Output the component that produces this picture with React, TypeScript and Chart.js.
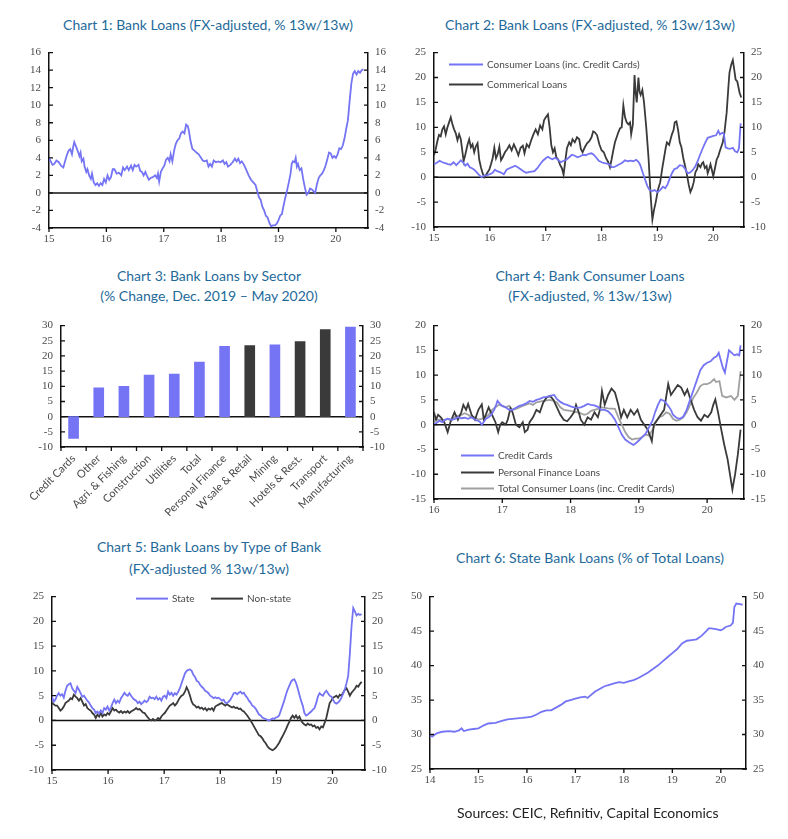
import React, { useEffect, useRef } from "react";
import { Chart, registerables } from "chart.js";

Chart.register(...registerables);

type Pt = [number, number];

// ---------------- DATA ----------------
// Chart 1: Bank loans, FX-adjusted % 13w/13w  [year (yy.frac), value]
const bankLoans: Pt[] = [
  [15.00,4.0],[15.03,3.6],[15.06,3.2],[15.09,3.3],[15.13,3.7],[15.17,3.5],[15.21,3.1],[15.25,2.9],[15.28,3.6],[15.31,4.3],
  [15.34,4.8],[15.37,5.0],[15.40,4.4],[15.42,5.2],[15.44,5.8],[15.47,5.3],[15.50,4.8],[15.53,4.2],[15.55,4.6],[15.57,3.6],
  [15.60,3.9],[15.62,3.0],[15.65,2.4],[15.67,2.7],[15.70,2.0],[15.73,1.6],[15.75,2.2],[15.78,1.2],[15.81,0.9],[15.84,1.1],
  [15.87,0.8],[15.90,1.1],[15.93,0.9],[15.96,1.6],[15.99,1.2],[16.02,2.0],[16.05,1.5],[16.08,1.8],[16.11,2.7],[16.14,2.7],
  [16.18,2.2],[16.22,2.3],[16.26,2.0],[16.29,2.9],[16.32,2.6],[16.36,3.0],[16.39,2.6],[16.43,3.1],[16.46,2.6],[16.49,3.2],
  [16.52,3.0],[16.56,3.2],[16.59,2.5],[16.62,2.4],[16.65,2.0],[16.68,2.4],[16.71,1.9],[16.74,1.5],[16.77,1.7],[16.81,1.8],
  [16.85,2.0],[16.88,1.7],[16.90,2.2],[16.92,1.3],[16.95,2.4],[16.98,2.8],[17.01,3.1],[17.04,3.8],[17.07,4.0],[17.10,3.6],
  [17.12,4.4],[17.15,3.6],[17.18,4.8],[17.21,5.6],[17.24,6.0],[17.27,6.2],[17.30,6.8],[17.33,7.0],[17.36,6.8],[17.39,7.8],
  [17.42,7.6],[17.44,7.0],[17.47,5.8],[17.50,5.0],[17.54,4.8],[17.57,4.6],[17.61,4.4],[17.64,4.1],[17.68,3.7],[17.71,3.6],
  [17.75,3.7],[17.78,3.0],[17.81,3.3],[17.84,3.0],[17.87,3.7],[17.91,3.5],[17.95,3.6],[17.99,3.5],[18.03,3.7],[18.06,3.3],
  [18.09,3.5],[18.12,3.0],[18.16,3.2],[18.20,3.5],[18.24,3.9],[18.27,3.6],[18.30,3.9],[18.33,3.4],[18.36,3.6],[18.40,3.2],
  [18.44,2.6],[18.48,2.0],[18.52,1.5],[18.56,1.2],[18.60,0.9],[18.63,0.2],[18.66,-0.5],[18.69,-0.8],[18.72,-1.6],[18.75,-2.0],
  [18.78,-2.6],[18.81,-2.8],[18.84,-3.4],[18.87,-3.8],[18.90,-3.7],[18.94,-3.7],[18.97,-3.5],[19.00,-3.1],[19.03,-2.6],[19.06,-2.4],
  [19.09,-1.4],[19.12,-0.5],[19.15,0.3],[19.18,1.2],[19.21,2.2],[19.23,3.3],[19.25,3.6],[19.28,3.5],[19.30,4.0],[19.32,3.0],
  [19.34,3.3],[19.37,2.6],[19.40,2.8],[19.43,1.6],[19.46,0.6],[19.49,-0.2],[19.52,0.0],[19.55,0.5],[19.58,0.4],[19.61,0.2],
  [19.64,0.0],[19.67,1.0],[19.70,1.7],[19.73,2.0],[19.76,2.2],[19.79,2.6],[19.82,3.1],[19.85,3.8],[19.88,4.6],[19.91,4.5],
  [19.94,4.0],[19.97,4.2],[20.00,4.0],[20.03,4.4],[20.06,5.1],[20.09,5.0],[20.12,5.4],[20.15,6.2],[20.18,7.3],[20.21,8.3],
  [20.24,10.5],[20.27,12.5],[20.30,13.6],[20.33,13.9],[20.36,13.5],[20.39,13.9],[20.42,13.7],[20.45,14.0],[20.48,14.1],
];

// Chart 2: consumer vs commercial loans
const consumerLoans: Pt[] = [
  [15.00,2.6],[15.05,2.9],[15.10,3.3],[15.15,3.0],[15.20,2.8],[15.25,2.6],[15.30,2.5],[15.35,3.0],[15.40,2.4],[15.45,3.0],
  [15.48,3.4],[15.52,3.0],[15.56,2.3],[15.60,2.7],[15.64,2.0],[15.68,1.8],[15.72,1.5],[15.77,0.9],[15.81,0.4],[15.85,0.0],
  [15.90,0.3],[15.95,0.4],[16.00,0.6],[16.05,0.9],[16.09,1.5],[16.13,1.2],[16.18,1.0],[16.22,0.8],[16.25,0.6],[16.30,1.5],
  [16.35,1.8],[16.40,2.0],[16.45,2.3],[16.50,2.0],[16.55,1.6],[16.60,1.2],[16.65,0.9],[16.70,1.0],[16.75,1.1],[16.80,1.2],
  [16.85,1.8],[16.90,2.6],[16.95,3.3],[17.00,3.8],[17.04,4.1],[17.08,3.8],[17.12,3.6],[17.17,3.9],[17.22,3.5],[17.27,3.0],
  [17.32,3.3],[17.37,3.5],[17.42,4.0],[17.47,4.5],[17.52,4.3],[17.57,4.0],[17.62,4.2],[17.67,4.5],[17.72,4.4],[17.77,4.7],
  [17.82,4.8],[17.86,4.5],[17.90,4.0],[17.95,3.3],[18.00,3.0],[18.05,2.8],[18.10,2.7],[18.15,2.5],[18.18,2.0],[18.22,2.0],
  [18.27,2.3],[18.32,2.6],[18.37,2.9],[18.42,3.4],[18.47,3.2],[18.52,3.3],[18.57,3.2],[18.62,3.5],[18.66,3.1],[18.69,2.5],
  [18.72,1.5],[18.75,0.5],[18.78,-0.5],[18.82,-1.8],[18.86,-2.6],[18.90,-2.8],[18.95,-2.6],[19.00,-3.0],[19.05,-2.6],[19.10,-1.9],
  [19.14,-2.2],[19.18,-1.5],[19.22,-0.3],[19.26,0.8],[19.30,1.6],[19.35,1.8],[19.40,2.4],[19.45,2.3],[19.50,1.6],[19.54,0.8],
  [19.58,0.9],[19.63,1.4],[19.68,2.2],[19.72,3.2],[19.76,4.4],[19.80,5.5],[19.85,6.8],[19.90,7.9],[19.95,8.1],[20.00,8.3],
  [20.05,8.4],[20.09,9.3],[20.12,8.6],[20.16,8.9],[20.19,8.7],[20.22,6.0],[20.26,5.8],[20.30,5.7],[20.35,5.9],[20.39,5.2],
  [20.43,5.0],[20.46,5.8],[20.49,10.8],
];
const commercialLoans: Pt[] = [
  [15.00,4.4],[15.03,5.6],[15.06,7.2],[15.09,8.5],[15.12,8.2],[15.15,9.6],[15.18,10.2],[15.21,8.6],[15.24,10.0],[15.27,11.0],
  [15.30,12.0],[15.33,10.6],[15.36,9.6],[15.39,8.8],[15.42,7.4],[15.45,8.6],[15.48,7.6],[15.51,5.0],[15.53,3.2],[15.56,4.5],
  [15.60,6.5],[15.63,7.6],[15.66,6.0],[15.69,6.6],[15.72,5.0],[15.75,6.2],[15.78,6.8],[15.81,3.5],[15.84,2.0],[15.87,0.8],
  [15.90,0.0],[15.93,0.4],[15.96,1.0],[15.99,1.5],[16.02,2.6],[16.05,3.8],[16.08,5.9],[16.11,3.8],[16.14,4.6],[16.17,6.1],
  [16.20,3.4],[16.23,4.0],[16.27,5.0],[16.31,5.6],[16.35,6.4],[16.39,5.4],[16.43,6.6],[16.47,5.6],[16.51,4.4],[16.55,5.9],
  [16.59,6.3],[16.62,4.8],[16.66,6.6],[16.70,6.0],[16.74,7.4],[16.78,8.6],[16.82,9.6],[16.86,8.6],[16.90,10.4],[16.94,9.6],
  [16.97,11.4],[17.00,12.0],[17.04,12.6],[17.07,10.0],[17.10,6.4],[17.13,5.0],[17.16,5.8],[17.19,4.0],[17.22,3.6],[17.26,2.4],
  [17.29,1.8],[17.32,0.5],[17.35,3.2],[17.38,5.8],[17.42,7.0],[17.45,6.4],[17.48,7.6],[17.52,7.0],[17.56,8.0],[17.60,7.6],
  [17.63,5.6],[17.66,5.0],[17.70,6.0],[17.74,6.8],[17.78,7.2],[17.82,8.0],[17.85,9.2],[17.88,9.0],[17.92,8.4],[17.96,6.6],
  [18.00,5.4],[18.04,5.0],[18.08,3.8],[18.12,3.0],[18.15,2.0],[18.18,3.6],[18.21,5.4],[18.24,7.0],[18.27,8.0],[18.30,9.0],
  [18.33,9.8],[18.36,10.0],[18.39,14.4],[18.42,12.0],[18.45,11.0],[18.48,10.6],[18.51,11.0],[18.53,8.6],[18.56,10.6],[18.59,20.5],
  [18.61,17.0],[18.63,15.0],[18.66,20.0],[18.68,17.2],[18.70,16.5],[18.73,17.5],[18.76,15.0],[18.80,10.0],[18.84,4.0],[18.88,-4.0],
  [18.91,-8.5],[18.94,-6.5],[18.97,-5.0],[19.01,-2.5],[19.05,-1.0],[19.09,2.0],[19.12,4.0],[19.15,6.0],[19.17,7.0],[19.21,6.5],
  [19.24,7.8],[19.26,8.6],[19.29,9.5],[19.31,11.0],[19.34,11.2],[19.37,9.5],[19.40,7.0],[19.43,6.0],[19.46,4.0],[19.49,2.5],
  [19.52,1.0],[19.56,-1.5],[19.59,-3.0],[19.62,-2.2],[19.65,-1.0],[19.68,1.0],[19.71,1.6],[19.73,2.6],[19.77,2.0],[19.80,2.8],
  [19.82,3.0],[19.85,1.8],[19.88,2.2],[19.90,0.8],[19.93,1.8],[19.95,2.6],[19.98,1.2],[20.00,0.2],[20.03,1.8],[20.06,3.5],
  [20.09,4.2],[20.11,5.0],[20.14,6.0],[20.17,7.0],[20.20,9.0],[20.24,13.0],[20.27,18.0],[20.29,21.0],[20.32,22.5],[20.35,23.5],
  [20.37,22.0],[20.40,19.6],[20.43,19.2],[20.47,17.0],[20.50,16.0],
];

// Chart 3: loans by sector, % change Dec 2019 - May 2020
const sectors = ["Credit Cards","Other","Agri. & Fishing","Construction","Utilities","Total","Personal Finance","W'sale & Retail","Mining","Hotels & Rest.","Transport","Manufacturing"];
const sectorChange = [-7.2, 9.5, 10.0, 13.7, 14.0, 18.0, 23.2, 23.4, 23.7, 24.7, 28.7, 29.5];
const darkSectors = ["W'sale & Retail", "Hotels & Rest.", "Transport"];

// Chart 4: consumer loans
const creditCards: Pt[] = [
  [16.00,0.0],[16.04,0.4],[16.08,0.8],[16.12,0.5],[16.16,1.0],[16.20,1.2],[16.25,1.0],[16.30,1.1],[16.35,1.5],[16.40,1.3],
  [16.45,1.4],[16.50,1.2],[16.55,1.5],[16.60,1.0],[16.64,0.8],[16.67,0.6],[16.70,0.0],[16.73,0.6],[16.76,1.2],[16.80,1.5],
  [16.84,2.0],[16.88,3.0],[16.91,4.0],[16.93,4.8],[16.96,4.3],[17.00,3.8],[17.05,3.5],[17.10,3.0],[17.15,3.0],[17.20,3.4],
  [17.25,3.8],[17.30,4.0],[17.35,4.3],[17.40,4.8],[17.45,4.6],[17.50,5.0],[17.55,5.2],[17.60,5.5],[17.65,5.6],[17.70,5.8],
  [17.76,6.0],[17.80,5.2],[17.85,4.6],[17.90,4.2],[17.95,4.0],[18.00,3.7],[18.05,3.5],[18.10,3.4],[18.15,3.5],[18.20,3.8],
  [18.25,4.2],[18.30,4.0],[18.35,3.9],[18.40,3.6],[18.45,3.0],[18.50,3.0],[18.55,2.7],[18.60,2.0],[18.65,1.0],[18.70,-0.5],
  [18.75,-2.0],[18.80,-3.0],[18.85,-3.5],[18.92,-4.1],[18.96,-3.7],[19.00,-3.2],[19.05,-2.5],[19.10,-1.8],[19.15,-0.5],[19.20,0.8],
  [19.24,2.6],[19.28,4.0],[19.32,5.1],[19.37,4.8],[19.42,4.0],[19.47,3.0],[19.50,2.0],[19.55,1.4],[19.60,1.2],[19.65,1.6],
  [19.70,3.0],[19.75,5.0],[19.80,7.0],[19.85,9.0],[19.90,11.0],[19.95,12.0],[20.00,12.5],[20.05,12.8],[20.10,13.5],[20.14,13.8],
  [20.17,14.5],[20.20,13.0],[20.23,11.5],[20.26,10.5],[20.29,12.8],[20.32,15.0],[20.36,14.5],[20.40,14.0],[20.44,14.2],[20.47,14.0],
  [20.49,16.0],
];
const personalFinance: Pt[] = [
  [16.00,2.5],[16.03,1.0],[16.06,2.0],[16.10,1.5],[16.15,0.5],[16.20,-1.5],[16.24,0.5],[16.27,1.5],[16.30,2.5],[16.35,1.0],
  [16.40,2.5],[16.43,4.0],[16.47,3.0],[16.50,4.2],[16.55,2.0],[16.60,1.0],[16.65,3.0],[16.70,4.1],[16.73,1.0],[16.80,3.5],
  [16.85,2.0],[16.90,0.5],[16.94,-1.5],[16.97,0.0],[17.00,0.5],[17.05,0.0],[17.08,1.0],[17.12,3.3],[17.15,2.5],[17.20,0.0],
  [17.25,-0.5],[17.30,0.5],[17.33,-1.5],[17.37,-1.0],[17.40,0.5],[17.45,1.5],[17.50,3.0],[17.55,2.5],[17.60,4.5],[17.65,5.5],
  [17.70,5.8],[17.75,5.0],[17.80,3.5],[17.85,2.0],[17.90,1.0],[17.95,0.7],[18.00,1.5],[18.05,2.5],[18.08,4.0],[18.12,2.5],
  [18.15,1.0],[18.20,0.0],[18.25,1.5],[18.30,1.0],[18.35,2.5],[18.40,1.5],[18.43,3.0],[18.46,6.8],[18.50,4.0],[18.55,6.0],
  [18.60,7.3],[18.65,6.5],[18.70,4.0],[18.74,1.5],[18.78,3.0],[18.83,1.5],[18.88,3.0],[18.93,2.0],[18.98,3.0],[19.03,1.0],
  [19.08,0.0],[19.13,-1.0],[19.19,-3.3],[19.22,0.0],[19.27,1.0],[19.32,2.0],[19.37,3.0],[19.43,8.2],[19.47,6.0],[19.52,7.0],
  [19.57,8.0],[19.62,7.5],[19.67,6.0],[19.71,7.1],[19.76,5.0],[19.81,3.0],[19.86,1.5],[19.91,0.8],[19.96,2.0],[20.01,1.5],
  [20.06,2.5],[20.09,4.0],[20.12,5.1],[20.16,2.5],[20.20,-0.5],[20.25,-4.0],[20.30,-7.0],[20.34,-10.5],[20.37,-13.1],[20.41,-10.0],
  [20.45,-6.0],[20.49,-1.0],
];
const totalConsumer: Pt[] = [
  [16.00,1.5],[16.05,1.0],[16.10,1.0],[16.15,0.8],[16.20,1.2],[16.25,0.8],[16.30,1.5],[16.35,1.8],[16.40,2.0],[16.45,2.3],
  [16.50,2.0],[16.55,1.5],[16.60,1.5],[16.65,1.0],[16.70,1.2],[16.75,1.5],[16.80,2.0],[16.85,3.0],[16.90,3.5],[16.95,4.0],
  [17.00,3.8],[17.05,3.5],[17.10,3.8],[17.15,3.0],[17.20,3.2],[17.30,3.8],[17.40,4.3],[17.45,4.0],[17.50,4.5],[17.60,4.8],
  [17.70,5.0],[17.75,4.8],[17.80,4.5],[17.85,3.5],[17.90,3.0],[18.00,2.8],[18.10,2.5],[18.15,2.3],[18.20,2.0],[18.25,2.2],
  [18.30,2.8],[18.40,3.2],[18.45,3.5],[18.55,3.3],[18.65,3.2],[18.70,1.5],[18.75,0.0],[18.80,-1.5],[18.85,-2.5],[18.90,-3.0],
  [18.95,-2.8],[19.00,-2.8],[19.05,-2.5],[19.10,-2.0],[19.15,-2.2],[19.20,-1.0],[19.25,0.5],[19.30,1.5],[19.35,1.8],[19.40,2.5],
  [19.45,2.2],[19.50,1.2],[19.55,0.8],[19.60,1.0],[19.65,1.5],[19.70,2.5],[19.75,4.0],[19.80,5.5],[19.85,6.5],[19.90,7.8],
  [19.95,8.2],[20.00,8.2],[20.05,8.5],[20.10,9.2],[20.13,8.6],[20.18,8.8],[20.22,5.8],[20.28,5.5],[20.35,5.8],[20.40,5.0],
  [20.45,5.8],[20.49,10.8],
];

// Chart 5: state vs non-state banks
const stateBanks: Pt[] = [
  [15.00,4.8],[15.03,3.8],[15.06,4.2],[15.09,5.0],[15.12,5.5],[15.15,5.0],[15.18,5.3],[15.21,4.6],[15.24,6.0],[15.27,7.0],
  [15.30,7.3],[15.33,7.5],[15.36,6.5],[15.39,6.0],[15.42,5.5],[15.45,6.8],[15.48,6.2],[15.51,5.5],[15.54,4.8],[15.57,5.0],
  [15.60,4.5],[15.63,4.0],[15.66,3.6],[15.69,3.0],[15.72,2.5],[15.75,2.2],[15.78,1.5],[15.81,1.8],[15.84,1.4],[15.87,2.0],
  [15.90,1.5],[15.93,2.5],[15.96,2.2],[15.99,2.8],[16.02,2.0],[16.05,2.6],[16.08,3.5],[16.11,4.2],[16.14,3.5],[16.17,4.0],
  [16.20,3.6],[16.23,4.5],[16.26,5.0],[16.29,5.6],[16.32,5.2],[16.35,5.0],[16.38,5.5],[16.41,5.0],[16.44,4.5],[16.47,4.2],
  [16.50,4.0],[16.53,3.5],[16.56,3.8],[16.59,3.3],[16.62,3.6],[16.65,4.0],[16.68,3.7],[16.71,4.0],[16.74,4.8],[16.77,4.5],
  [16.80,4.6],[16.83,4.3],[16.86,4.8],[16.89,4.2],[16.92,4.5],[16.95,4.0],[16.98,4.8],[17.01,5.0],[17.04,4.5],[17.07,5.8],
  [17.10,5.2],[17.13,5.6],[17.16,5.0],[17.19,5.5],[17.22,5.2],[17.25,5.8],[17.28,6.5],[17.31,7.5],[17.34,8.5],[17.37,9.5],
  [17.40,10.0],[17.43,10.2],[17.46,10.3],[17.49,10.0],[17.52,9.2],[17.55,8.8],[17.58,8.0],[17.61,7.8],[17.64,7.2],[17.67,6.8],
  [17.70,6.5],[17.73,6.0],[17.76,5.8],[17.79,5.5],[17.82,5.0],[17.85,4.8],[17.88,4.5],[17.91,4.7],[17.94,4.5],[17.97,4.6],
  [18.00,4.3],[18.03,4.0],[18.06,4.2],[18.09,3.6],[18.12,3.5],[18.15,3.8],[18.18,4.2],[18.21,4.8],[18.24,5.5],[18.27,5.6],
  [18.30,5.3],[18.33,5.6],[18.36,5.8],[18.39,5.4],[18.42,5.6],[18.45,5.0],[18.48,4.6],[18.51,4.0],[18.54,3.6],[18.57,3.0],
  [18.60,2.8],[18.63,2.4],[18.66,1.8],[18.69,1.2],[18.72,1.0],[18.75,0.6],[18.78,0.4],[18.81,0.3],[18.84,0.1],[18.87,0.0],
  [18.90,0.2],[18.93,0.4],[18.96,0.3],[18.99,0.6],[19.02,0.7],[19.05,1.0],[19.08,2.0],[19.11,3.0],[19.14,4.0],[19.17,5.2],
  [19.20,6.2],[19.23,7.0],[19.26,7.8],[19.29,8.2],[19.32,8.3],[19.35,7.6],[19.38,6.5],[19.41,5.2],[19.44,4.0],[19.47,3.0],
  [19.50,1.5],[19.53,1.0],[19.56,1.2],[19.59,1.5],[19.62,1.8],[19.65,2.2],[19.68,2.5],[19.71,3.5],[19.74,4.8],[19.77,5.5],
  [19.80,5.2],[19.83,5.0],[19.86,5.6],[19.89,6.0],[19.92,5.5],[19.95,5.0],[19.98,4.8],[20.01,4.2],[20.04,3.6],[20.07,3.4],
  [20.10,3.6],[20.13,4.0],[20.16,4.6],[20.19,5.4],[20.22,6.2],[20.25,7.5],[20.28,9.0],[20.31,13.5],[20.34,19.0],[20.37,22.7],
  [20.40,22.0],[20.43,21.2],[20.46,21.5],[20.49,21.3],[20.52,21.5],
];
const nonStateBanks: Pt[] = [
  [15.00,3.5],[15.03,3.3],[15.06,3.0],[15.09,3.0],[15.12,2.5],[15.15,2.0],[15.18,2.3],[15.21,2.8],[15.24,3.5],[15.27,3.8],
  [15.30,4.0],[15.33,4.5],[15.36,4.3],[15.39,5.2],[15.42,4.8],[15.45,4.5],[15.48,4.0],[15.51,4.5],[15.54,3.8],[15.57,3.0],
  [15.60,3.3],[15.63,2.5],[15.66,2.2],[15.69,2.0],[15.72,1.5],[15.75,1.2],[15.78,0.5],[15.81,1.2],[15.84,0.8],[15.87,1.5],
  [15.90,0.8],[15.93,1.2],[15.96,1.0],[15.99,1.5],[16.02,1.2],[16.05,1.8],[16.08,2.5],[16.11,2.0],[16.14,2.2],[16.17,1.8],
  [16.20,1.6],[16.23,1.9],[16.26,1.5],[16.29,1.8],[16.32,1.6],[16.35,1.9],[16.38,1.5],[16.41,1.8],[16.44,2.0],[16.47,2.2],
  [16.50,2.5],[16.53,2.2],[16.56,2.3],[16.59,2.0],[16.62,1.6],[16.65,1.5],[16.68,1.0],[16.71,0.6],[16.74,0.2],[16.77,0.0],
  [16.80,0.3],[16.83,0.0],[16.86,0.1],[16.89,0.5],[16.92,0.2],[16.95,0.8],[16.98,1.2],[17.01,1.5],[17.04,2.0],[17.07,2.5],
  [17.10,3.0],[17.13,3.2],[17.16,3.5],[17.19,3.0],[17.22,3.4],[17.25,4.0],[17.28,4.6],[17.31,5.0],[17.34,5.2],[17.37,5.8],
  [17.40,6.7],[17.43,6.0],[17.46,5.0],[17.49,3.8],[17.52,3.2],[17.55,3.0],[17.58,2.6],[17.61,2.8],[17.64,2.4],[17.67,2.6],
  [17.70,2.2],[17.73,2.5],[17.76,2.0],[17.79,2.4],[17.82,2.2],[17.85,2.5],[17.88,2.0],[17.91,2.8],[17.94,3.0],[17.97,3.2],
  [18.00,3.4],[18.03,3.5],[18.06,3.2],[18.09,3.0],[18.12,3.3],[18.15,3.0],[18.18,2.8],[18.21,2.6],[18.24,2.8],[18.27,2.5],
  [18.30,2.6],[18.33,2.3],[18.36,2.4],[18.39,2.0],[18.42,1.8],[18.45,1.4],[18.48,1.0],[18.51,0.5],[18.54,0.0],[18.57,-0.6],
  [18.60,-1.2],[18.63,-1.8],[18.66,-2.4],[18.69,-3.0],[18.72,-3.2],[18.75,-3.6],[18.78,-4.2],[18.81,-4.6],[18.84,-5.2],[18.87,-5.6],
  [18.90,-5.8],[18.93,-6.0],[18.96,-5.8],[18.99,-5.5],[19.02,-5.0],[19.05,-4.5],[19.08,-3.8],[19.11,-3.2],[19.14,-2.5],[19.17,-1.8],
  [19.20,-1.0],[19.23,-0.3],[19.26,0.5],[19.29,1.0],[19.32,0.5],[19.35,1.0],[19.38,0.4],[19.41,0.8],[19.44,0.0],[19.47,-0.5],
  [19.50,-0.8],[19.53,-1.0],[19.56,-0.6],[19.59,-0.9],[19.62,-0.8],[19.65,-1.2],[19.68,-1.0],[19.71,-1.5],[19.74,-1.3],[19.77,-1.8],
  [19.80,-1.2],[19.83,-1.4],[19.86,-0.5],[19.89,0.5],[19.92,2.0],[19.95,3.5],[19.98,4.0],[20.01,4.6],[20.04,4.8],[20.07,5.0],
  [20.10,4.6],[20.13,5.2],[20.16,5.0],[20.19,5.6],[20.22,6.2],[20.25,6.5],[20.28,5.8],[20.31,5.0],[20.34,5.6],[20.37,6.0],
  [20.40,6.4],[20.43,7.0],[20.46,6.8],[20.49,7.4],[20.52,7.8],
];

// Chart 6: state bank loans, % of total loans
const stateShare: Pt[] = [
  [14.00,29.8],[14.05,29.7],[14.10,30.0],[14.15,30.2],[14.25,30.4],[14.40,30.5],[14.50,30.4],[14.60,30.6],[14.65,30.9],[14.70,30.5],
  [14.80,30.7],[14.90,30.8],[15.00,30.9],[15.10,31.3],[15.20,31.6],[15.35,31.7],[15.50,32.0],[15.60,32.2],[15.75,32.3],[15.90,32.4],
  [16.00,32.5],[16.10,32.6],[16.20,32.9],[16.30,33.3],[16.40,33.5],[16.50,33.5],[16.60,33.9],[16.70,34.3],[16.80,34.8],[16.90,35.0],
  [17.00,35.2],[17.10,35.4],[17.20,35.5],[17.25,35.3],[17.30,35.6],[17.40,36.2],[17.50,36.6],[17.60,37.0],[17.70,37.2],[17.80,37.4],
  [17.90,37.6],[18.00,37.5],[18.10,37.7],[18.20,37.9],[18.30,38.2],[18.40,38.6],[18.50,39.0],[18.60,39.5],[18.70,40.0],[18.80,40.6],
  [18.90,41.2],[19.00,41.8],[19.10,42.4],[19.20,43.2],[19.30,43.6],[19.40,43.7],[19.50,43.8],[19.60,44.3],[19.70,45.0],[19.75,45.4],
  [19.80,45.4],[19.90,45.3],[20.00,45.1],[20.05,45.3],[20.10,45.6],[20.20,45.8],[20.25,46.2],[20.28,48.5],[20.32,49.0],[20.40,48.9],
  [20.45,48.8],
];

const years14 = [14, 15, 16, 17, 18, 19, 20];
const years15 = [15, 16, 17, 18, 19, 20];
const years16 = [16, 17, 18, 19, 20];

// ---------------- STYLE ----------------
const BLUE = "#7474f4";
const DARK = "#3a3a3a";
const GREY = "#a0a0a0";
const TITLE_COLOR = "#1f6a9a";
const TICK_COLOR = "#4a4a4a";
const SERIF = '"Liberation Serif", "DejaVu Serif", serif';
const SANS = 'Lato, "Open Sans", sans-serif';
const Y_AXIS_W = 40;
const PAD_TOP = 10;

type Box = { left: number; top: number; width: number; height: number };
type LegendItem = { label: string; color: string; dx: number; dy: number; len: number };

const decorPlugin = {
  id: "decor",
  beforeDatasetsDraw(chart: any, _a: any, opts: any) {
    if (!opts.zero) return;
    const { ctx, chartArea: a } = chart;
    const y0 = chart.scales.y.getPixelForValue(0);
    ctx.save();
    ctx.strokeStyle = "#111";
    ctx.lineWidth = 1.5;
    ctx.beginPath();
    ctx.moveTo(a.left, y0);
    ctx.lineTo(a.right, y0);
    ctx.stroke();
    ctx.restore();
  },
  afterDraw(chart: any, _a: any, opts: any) {
    const { ctx, chartArea: a } = chart;
    ctx.save();
    ctx.strokeStyle = "#111";
    ctx.lineWidth = 1.3;
    ctx.beginPath();
    const ys = chart.scales.y;
    for (const t of ys.ticks) {
      const p = ys.getPixelForValue(t.value);
      ctx.moveTo(a.left, p);
      ctx.lineTo(a.left + 4, p);
      ctx.moveTo(a.right - 4, p);
      ctx.lineTo(a.right, p);
    }
    const xs = chart.scales.x;
    if (opts.category) {
      const n = chart.data.labels.length;
      const w = (a.right - a.left) / n;
      for (let i = 0; i <= n; i++) {
        const p = xs.getPixelForValue(Math.min(i, n - 1)) + (i < n ? -w / 2 : w / 2);
        ctx.moveTo(p, a.bottom);
        ctx.lineTo(p, a.bottom + 4);
      }
    } else {
      for (const t of xs.ticks) {
        const p = xs.getPixelForValue(t.value);
        ctx.moveTo(p, a.bottom);
        ctx.lineTo(p, a.bottom + 4);
      }
    }
    ctx.stroke();
    const items: LegendItem[] = opts.legend || [];
    ctx.font = `${opts.legendSize || 10}px ${SANS}`;
    ctx.textBaseline = "middle";
    ctx.textAlign = "left";
    for (const it of items) {
      const x = a.left + it.dx;
      const y = a.top + it.dy;
      ctx.strokeStyle = it.color;
      ctx.lineWidth = 2;
      ctx.beginPath();
      ctx.moveTo(x, y);
      ctx.lineTo(x + it.len, y);
      ctx.stroke();
      ctx.fillStyle = TICK_COLOR;
      ctx.fillText(it.label, x + it.len + 4, y + 0.5);
    }
    ctx.restore();
  },
};

const tickFont = { family: SERIF, size: 11 };
const catFont = { family: SANS, size: 11 };

function yScale(pos: "left" | "right", min: number, max: number, step: number) {
  return {
    type: "linear",
    position: pos,
    min,
    max,
    ticks: {
      stepSize: step, autoSkip: false, padding: pos === "left" ? 8 : 7,
      font: tickFont, color: TICK_COLOR, callback: (v: any) => String(v),
    },
    afterFit: (s: any) => { s.width = Y_AXIS_W; },
    grid: { display: false, drawTicks: false },
    border: { display: true, color: "#111", width: 1.5 },
  };
}

type Series = { label: string; points: Pt[]; color: string };

function lineConfig(o: {
  series: Series[]; xMin: number; xMax: number; xTicks: number[];
  yMin: number; yMax: number; yStep: number; zero: boolean; legend?: LegendItem[]; legendSize?: number;
}) {
  return {
    type: "line",
    data: {
      datasets: o.series.map((s) => ({
        label: s.label,
        data: s.points.map(([x, y]) => ({ x, y })),
        borderColor: s.color,
        borderWidth: 1.8,
        pointRadius: 0,
        tension: 0,
        fill: false,
        yAxisID: "y",
      })),
    },
    options: {
      responsive: false,
      animation: false,
      events: [],
      layout: { padding: { top: PAD_TOP, left: 0, right: 0, bottom: 0 } },
      plugins: {
        legend: { display: false },
        tooltip: { enabled: false },
        decor: { zero: o.zero, legend: o.legend || [], legendSize: o.legendSize || 10, category: false },
      },
      scales: {
        x: {
          type: "linear",
          min: o.xMin,
          max: o.xMax,
          afterBuildTicks: (s: any) => { s.ticks = o.xTicks.map((v) => ({ value: v })); },
          afterFit: (s: any) => { s.height = 26; },
          grid: { display: false, drawTicks: false },
          border: { display: true, color: "#111", width: 1.5 },
          ticks: { padding: 5, autoSkip: false, maxRotation: 0, font: tickFont, color: TICK_COLOR, callback: (v: any) => String(v) },
        },
        y: yScale("left", o.yMin, o.yMax, o.yStep),
        y2: yScale("right", o.yMin, o.yMax, o.yStep),
      },
    },
    plugins: [decorPlugin],
  };
}

function barConfig() {
  return {
    type: "bar",
    data: {
      labels: sectors,
      datasets: [{
        label: "% change",
        data: sectorChange,
        backgroundColor: sectors.map((s) => (darkSectors.includes(s) ? DARK : BLUE)),
        borderWidth: 0,
        barThickness: 10,
        yAxisID: "y",
      }],
    },
    options: {
      responsive: false,
      animation: false,
      events: [],
      layout: { padding: { top: PAD_TOP, left: 0, right: 0, bottom: 0 } },
      plugins: {
        legend: { display: false },
        tooltip: { enabled: false },
        decor: { zero: true, legend: [], category: true },
      },
      scales: {
        x: {
          type: "category",
          afterFit: (s: any) => { s.height = 70; },
          grid: { display: false, drawTicks: false },
          border: { display: true, color: "#111", width: 1.5 },
          ticks: { padding: 5, autoSkip: false, minRotation: 45, maxRotation: 45, font: catFont, color: TICK_COLOR },
        },
        y: yScale("left", -10, 30, 5),
        y2: yScale("right", -10, 30, 5),
      },
    },
    plugins: [decorPlugin],
  };
}

function ChartCanvas({ box, xAxisH, build }: { box: Box; xAxisH: number; build: () => any }) {
  const ref = useRef<HTMLCanvasElement>(null);
  useEffect(() => {
    const chart = new Chart(ref.current as HTMLCanvasElement, build());
    return () => chart.destroy();
  }, []);
  const w = box.width + 2 * Y_AXIS_W;
  const h = box.height + PAD_TOP + xAxisH;
  return (
    <canvas
      ref={ref}
      width={w}
      height={h}
      style={{ position: "absolute", left: box.left - Y_AXIS_W, top: box.top - PAD_TOP, width: w, height: h }}
    />
  );
}

const titleLines = [
  { text: "Chart 1: Bank Loans (FX-adjusted, % 13w/13w)", cx: 208, cy: 25 },
  { text: "Chart 2: Bank Loans (FX-adjusted, % 13w/13w)", cx: 590, cy: 25 },
  { text: "Chart 3: Bank Loans by Sector", cx: 209, cy: 276 },
  { text: "(% Change, Dec. 2019 – May 2020)", cx: 209, cy: 296 },
  { text: "Chart 4: Bank Consumer Loans", cx: 590, cy: 276 },
  { text: "(FX-adjusted, % 13w/13w)", cx: 590, cy: 296 },
  { text: "Chart 5: Bank Loans by Type of Bank", cx: 209, cy: 547 },
  { text: "(FX-adjusted % 13w/13w)", cx: 209, cy: 569 },
  { text: "Chart 6: State Bank Loans (% of Total Loans)", cx: 590, cy: 558 },
];

const charts: { key: string; box: Box; xAxisH: number; build: () => any }[] = [
  {
    key: "c1", box: { left: 49, top: 48, width: 319, height: 180 }, xAxisH: 26,
    build: () => lineConfig({
      series: [{ label: "Bank Loans", points: bankLoans, color: BLUE }],
      xMin: 15, xMax: 20.56, xTicks: years15, yMin: -4, yMax: 16, yStep: 2, zero: true,
    }),
  },
  {
    key: "c2", box: { left: 434, top: 48, width: 310, height: 179 }, xAxisH: 26,
    build: () => lineConfig({
      series: [
        { label: "Consumer Loans (inc. Credit Cards)", points: consumerLoans, color: BLUE },
        { label: "Commerical Loans", points: commercialLoans, color: DARK },
      ],
      xMin: 15, xMax: 20.55, xTicks: years15, yMin: -10, yMax: 25, yStep: 5, zero: true,
      legend: [
        { label: "Consumer Loans (inc. Credit Cards)", color: BLUE, dx: 15, dy: 12, len: 34 },
        { label: "Commerical Loans", color: DARK, dx: 15, dy: 32, len: 34 },
      ],
    }),
  },
  { key: "c3", box: { left: 61, top: 321, width: 302, height: 126 }, xAxisH: 70, build: barConfig },
  {
    key: "c4", box: { left: 434, top: 321, width: 310, height: 178 }, xAxisH: 26,
    build: () => lineConfig({
      series: [
        { label: "Credit Cards", points: creditCards, color: BLUE },
        { label: "Personal Finance Loans", points: personalFinance, color: DARK },
        { label: "Total Consumer Loans (inc. Credit Cards)", points: totalConsumer, color: GREY },
      ],
      xMin: 16, xMax: 20.54, xTicks: years16, yMin: -15, yMax: 20, yStep: 5, zero: true,
      legend: [
        { label: "Credit Cards", color: BLUE, dx: 27, dy: 130, len: 33 },
        { label: "Personal Finance Loans", color: DARK, dx: 27, dy: 147, len: 33 },
        { label: "Total Consumer Loans (inc. Credit Cards)", color: GREY, dx: 27, dy: 163, len: 33 },
      ],
    }),
  },
  {
    key: "c5", box: { left: 52, top: 592, width: 313, height: 178 }, xAxisH: 26,
    build: () => lineConfig({
      series: [
        { label: "State", points: stateBanks, color: BLUE },
        { label: "Non-state", points: nonStateBanks, color: DARK },
      ],
      xMin: 15, xMax: 20.58, xTicks: years15, yMin: -10, yMax: 25, yStep: 5, zero: true,
      legend: [
        { label: "State", color: BLUE, dx: 84, dy: 2, len: 32 },
        { label: "Non-state", color: DARK, dx: 159, dy: 2, len: 32 },
      ],
      legendSize: 10,
    }),
  },
  {
    key: "c6", box: { left: 430, top: 592, width: 316, height: 177 }, xAxisH: 26,
    build: () => lineConfig({
      series: [{ label: "State Bank Loans", points: stateShare, color: BLUE }],
      xMin: 14, xMax: 20.52, xTicks: years14, yMin: 25, yMax: 50, yStep: 5, zero: false,
    }),
  },
];

export default function App() {
  return (
    <div style={{ position: "absolute", left: 0, top: 0, width: 788, height: 839, background: "#fff", fontFamily: SANS }}>
      {titleLines.map((t) => (
        <div
          key={t.text}
          style={{
            position: "absolute", left: t.cx - 200, top: t.cy - 10, width: 400, height: 20,
            lineHeight: "20px", textAlign: "center", fontSize: 14, color: TITLE_COLOR, whiteSpace: "nowrap",
          }}
        >
          {t.text}
        </div>
      ))}
      {charts.map((c) => (
        <ChartCanvas key={c.key} box={c.box} xAxisH={c.xAxisH} build={c.build} />
      ))}
      <div style={{ position: "absolute", left: 457, top: 803, fontSize: 14, lineHeight: "20px", color: "#222", whiteSpace: "nowrap" }}>
        Sources: CEIC, Refinitiv, Capital Economics
      </div>
    </div>
  );
}
